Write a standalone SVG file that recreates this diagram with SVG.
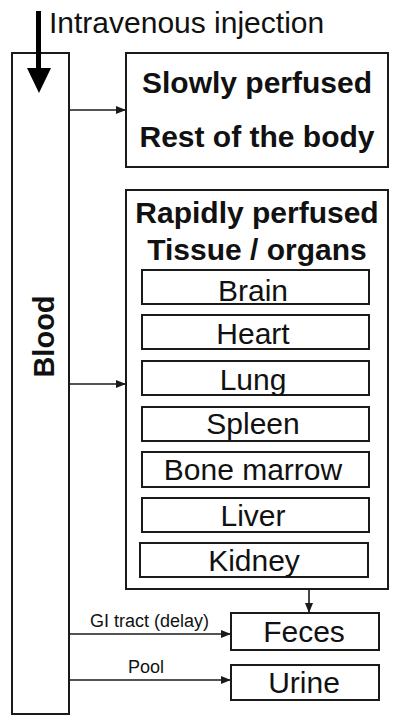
<svg xmlns="http://www.w3.org/2000/svg" width="400" height="727" viewBox="0 0 400 727">
<defs>
<style>
.box{fill:#fff;stroke:#1a1a1a;stroke-width:2}
.t{font-family:"Liberation Sans",Arial,sans-serif;fill:#111;text-anchor:middle}
.b{font-weight:bold;font-size:30px}
.r{font-size:30px}
.s{font-size:18px}
.ln{stroke:#1a1a1a;stroke-width:1.6;fill:none}
</style>
<marker id="ah" markerWidth="10" markerHeight="8" refX="10" refY="4" orient="auto" markerUnits="userSpaceOnUse">
<path d="M0,0 L10,4 L0,8 Z" fill="#1a1a1a"/>
</marker>
</defs>
<rect width="400" height="727" fill="#fff"/>
<g id="blood">
<rect class="box" x="12" y="53" width="57" height="661"/>
<text class="t b" font-size="29" transform="translate(54,336.5) rotate(-90)" style="font-size:29px">Blood</text>
</g>
<g id="injection">
<line x1="38.5" y1="11" x2="38.5" y2="70" stroke="#000" stroke-width="5"/>
<path d="M27,68 L51,68 L39,93 Z" fill="#000"/>
<text class="t r" x="49" y="33" style="text-anchor:start">Intravenous injection</text>
</g>
<g id="slowly">
<rect class="box" x="126" y="53" width="262" height="114"/>
<text class="t b" x="257" y="93">Slowly perfused</text>
<text class="t b" x="257" y="147">Rest of the body</text>
</g>
<g id="rapidly">
<rect class="box" x="126" y="190" width="262" height="399"/>
<text class="t b" x="257" y="223">Rapidly perfused</text>
<text class="t b" x="257" y="260">Tissue / organs</text>
</g>
<g id="brain"><rect class="box" x="142" y="270" width="227" height="34"/><text class="t r" x="253" y="301">Brain</text></g>
<g id="heart"><rect class="box" x="142" y="315" width="227" height="34"/><text class="t r" x="253" y="344">Heart</text></g>
<g id="lung"><rect class="box" x="142" y="361" width="227" height="34"/><text class="t r" x="253" y="390">Lung</text></g>
<g id="spleen"><rect class="box" x="142" y="407" width="227" height="34"/><text class="t r" x="253" y="434">Spleen</text></g>
<g id="bonemarrow"><rect class="box" x="142" y="452" width="227" height="35"/><text class="t r" x="253" y="480">Bone marrow</text></g>
<g id="liver"><rect class="box" x="142" y="498" width="227" height="34"/><text class="t r" x="253" y="526">Liver</text></g>
<g id="kidney"><rect class="box" x="140" y="543" width="228" height="34"/><text class="t r" x="254" y="571">Kidney</text></g>
<g id="feces"><rect class="box" x="231" y="613" width="148" height="37"/><text class="t r" x="304" y="642">Feces</text></g>
<g id="urine"><rect class="box" x="231" y="665" width="148" height="35"/><text class="t r" x="304" y="693">Urine</text></g>
<g id="connectors">
<line class="ln" x1="69" y1="110" x2="126" y2="110" marker-end="url(#ah)"/>
<line class="ln" x1="69" y1="384" x2="126" y2="384" marker-end="url(#ah)"/>
<line class="ln" x1="309" y1="589" x2="309" y2="613" marker-end="url(#ah)"/>
<line class="ln" x1="69" y1="634" x2="231" y2="634" marker-end="url(#ah)"/>
<line class="ln" x1="69" y1="680" x2="231" y2="680" marker-end="url(#ah)"/>
<text class="t s" x="149.5" y="627">GI tract (delay)</text>
<text class="t s" x="146" y="673">Pool</text>
</g>
</svg>
